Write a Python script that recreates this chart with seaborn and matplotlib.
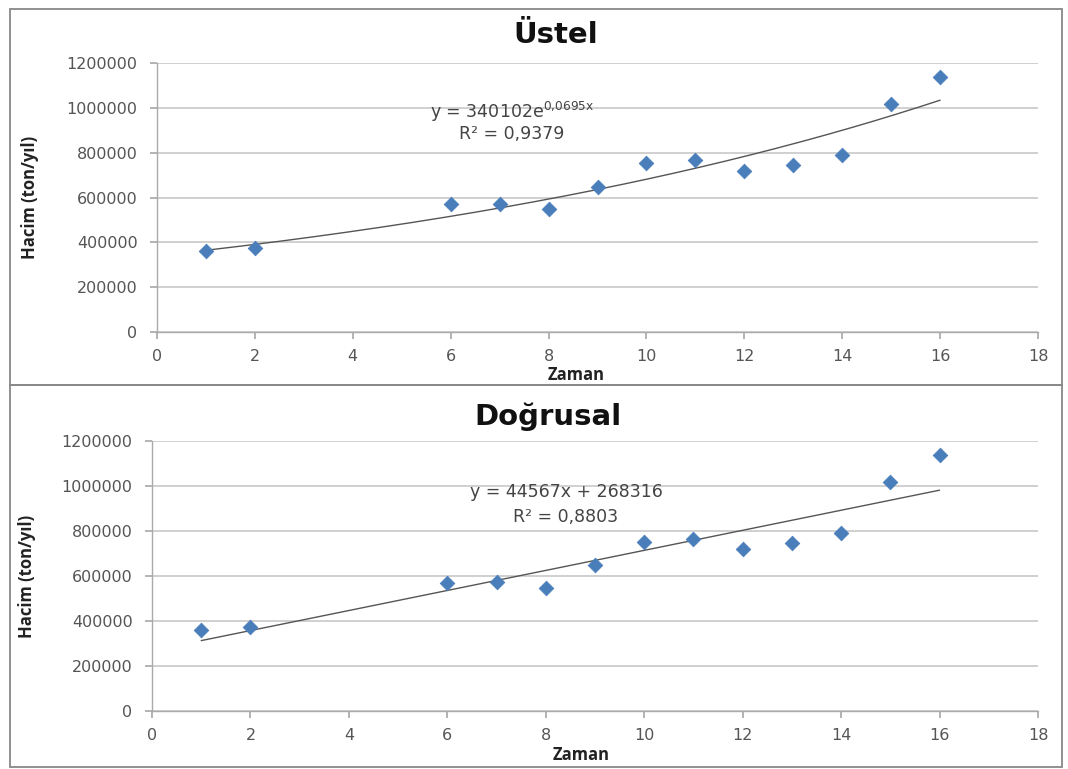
import numpy as np
import pandas as pd
import matplotlib
matplotlib.use("Agg")
import matplotlib.pyplot as plt
import seaborn as sns
from matplotlib.patches import Rectangle

# Data
zaman = [1, 2, 6, 7, 8, 9, 10, 11, 12, 13, 14, 15, 16]
hacim = [361000, 374000, 571000, 572000, 548000, 649000, 753000, 766000,
         720000, 745000, 789000, 1019000, 1138000]
exp_a, exp_b = 340102, 0.0695
lin_a, lin_b = 44567, 268316
titles = ["Üstel", "Doğrusal"]
equations = [r"y = 340102e$^{\mathrm{0{,}0695x}}$", "y = 44567x + 268316"]
r2_labels = ["R² = 0,9379", "R² = 0,8803"]
x_ticks = [0, 2, 4, 6, 8, 10, 12, 14, 16, 18]
y_ticks = [0, 200000, 400000, 600000, 800000, 1000000, 1200000]

sns.set_theme(style="white")
plt.rcParams['font.family'] = ['DejaVu Sans']
plt.rcParams['mathtext.fontset'] = 'dejavusans'

df = pd.DataFrame({"Zaman": zaman, "Hacim": hacim})
xfit = np.linspace(min(zaman), max(zaman), 200)
fits = [exp_a * np.exp(exp_b * xfit), lin_a * xfit + lin_b]

W, H = 1068, 769
fig = plt.figure(figsize=(W / 100, H / 100), dpi=100)

# panel boxes in pixel coords: (left, top, right, bottom)
panels = [(10, 9, 1062, 385), (10, 385, 1062, 767)]
axes_px = [(157, 63, 1038, 332), (152, 441, 1038, 711)]
eq_pos = [(512, 112, 134), (566, 492, 517)]
title_x = [556, 548]
title_y = [35, 417]
xlabel_pos = [(576, 375), (581, 755)]
ylabel_x = [30, 27]

for i in range(2):
    l, t, r, b = panels[i]
    fig.patches.append(Rectangle((l / W, 1 - b / H), (r - l) / W, (b - t) / H,
                                 transform=fig.transFigure, fill=False,
                                 edgecolor="#888888", linewidth=1.3, zorder=0))
    al, at, ar, ab = axes_px[i]
    ax = fig.add_axes([al / W, 1 - ab / H, (ar - al) / W, (ab - at) / H])
    sns.lineplot(x=xfit, y=fits[i], ax=ax, color="#555555", linewidth=1.0)
    sns.scatterplot(data=df, x="Zaman", y="Hacim", ax=ax, marker="D",
                    color="#4A7EBB", s=55, edgecolor="#4A7EBB", zorder=3)
    ax.set_xlim(0, 18)
    ax.set_ylim(0, 1200000)
    ax.set_xticks(x_ticks)
    ax.set_yticks(y_ticks)
    ax.set_yticklabels([str(v) for v in y_ticks])
    ax.yaxis.grid(True, color="#C4C4C4", linewidth=1.1)
    ax.xaxis.grid(False)
    ax.set_axisbelow(True)
    for s in ["top", "right"]:
        ax.spines[s].set_visible(False)
    for s in ["left", "bottom"]:
        ax.spines[s].set_color("#AAAAAA")
        ax.spines[s].set_linewidth(1.0)
    ax.tick_params(axis="both", which="both", direction="out", length=5,
                   color="#AAAAAA", labelsize=11.5, labelcolor="#555555",
                   left=True, bottom=True)
    ax.tick_params(axis="y", pad=9)
    ax.tick_params(axis="x", pad=7)
    ax.set_xlabel("")
    ax.set_ylabel("")
    fig.text(title_x[i] / W, 1 - title_y[i] / H, titles[i], ha="center",
             va="center", fontsize=21, fontweight="bold", color="#111111")
    fig.text(ylabel_x[i] / W, 1 - ((at + ab) / 2) / H, "Hacim (ton/yıl)",
             rotation=90, ha="center", va="center", fontsize=12,
             fontweight="bold", color="#222222", family="Open Sans")
    xx, xy = xlabel_pos[i]
    fig.text(xx / W, 1 - xy / H, "Zaman", ha="center", va="center",
             fontsize=12, fontweight="bold", color="#222222",
             family="Open Sans")
    ex, ey1, ey2 = eq_pos[i]
    fig.text(ex / W, 1 - ey1 / H, equations[i], ha="center", va="center",
             fontsize=12.5, color="#444444")
    fig.text(ex / W, 1 - ey2 / H, r2_labels[i], ha="center", va="center",
             fontsize=12.5, color="#444444")

fig.savefig("out.png", dpi=100, facecolor="white")
